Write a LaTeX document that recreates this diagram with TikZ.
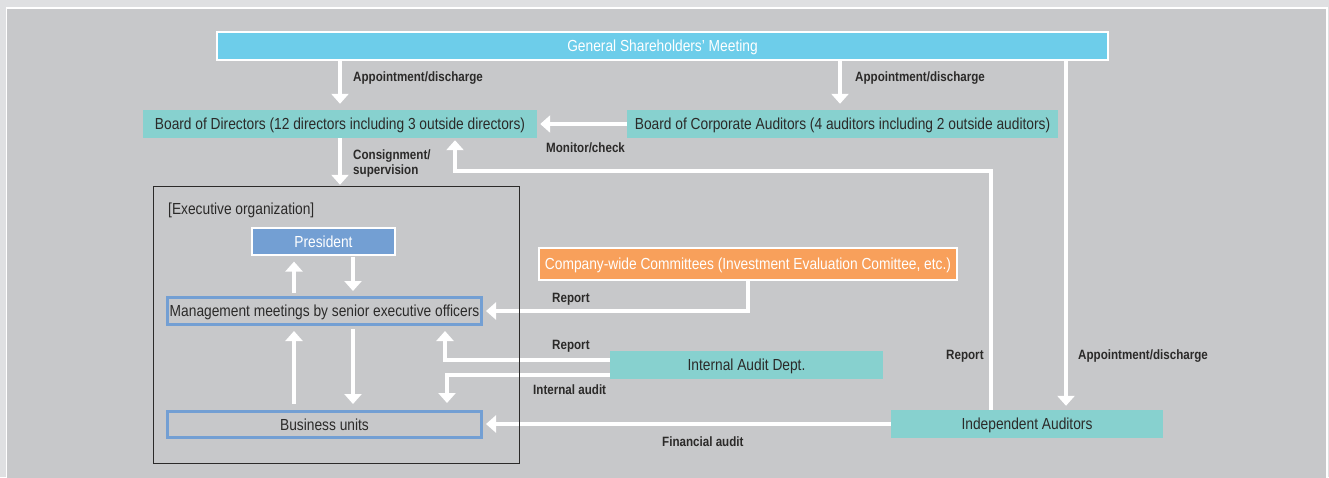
\documentclass[tikz,border=0pt]{standalone}
\usepackage{fontspec}
\setmainfont{Liberation Sans}[FakeStretch=0.86]
\usetikzlibrary{arrows.meta}
\definecolor{pagebg}{HTML}{DFE0E2}
\definecolor{panel}{HTML}{C7C8CA}
\definecolor{gsmblue}{HTML}{6DCDEA}
\definecolor{teal}{HTML}{87D1CF}
\definecolor{presblue}{HTML}{739FD3}
\definecolor{orangebox}{HTML}{F8A05B}
\definecolor{ink}{HTML}{2B2A29}
\tikzset{
  box/.style={inner sep=0pt, font=\fontsize{16}{18}\selectfont, text=ink, text height=11.5pt, text depth=0pt},
  lightbox/.style={box, draw=white, line width=1.2pt, text=white},
  tealbox/.style={box, fill=teal},
  outlinebox/.style={box, draw=presblue, line width=3pt},
  lbl/.style={anchor=west, inner sep=0pt, text=ink, font=\fontsize{13.5}{15.5}\selectfont\bfseries, align=left, text height=9.7pt, text depth=0pt},
  flow/.style={draw=white, line width=3.5pt, -{Triangle[width=17pt,length=10pt]}},
}
\begin{document}
\begin{tikzpicture}[x=1pt,y=-1pt]
\useasboundingbox (0,0) rectangle (1329,477);
\fill[pagebg] (0,0) rectangle (1329,477);
\filldraw[fill=panel, draw=white, line width=1.2pt] (6.5,8) rectangle (1327,490);

% top level bodies
\node[lightbox, fill=gsmblue, minimum width=891pt, minimum height=28pt] (gsm) at (662.5,46) {General Shareholders' Meeting};
\node[tealbox, minimum width=394pt, minimum height=28pt] (bod) at (340,124) {Board of Directors (12 directors including 3 outside directors)};
\node[tealbox, minimum width=431pt, minimum height=28pt] (bca) at (842.5,124) {Board of Corporate Auditors (4 auditors including 2 outside auditors)};

% executive organization
\node[draw=none, minimum width=365pt, minimum height=276pt, inner sep=0pt] (exec) at (336.5,325) {};
\node[anchor=west, inner sep=0pt, text=ink, font=\fontsize{16}{18}\selectfont, text height=11.5pt, text depth=0pt] (execlbl) at (168,209) {[Executive organization]};
\node[lightbox, fill=presblue, minimum width=143pt, minimum height=27pt] (pres) at (323.5,241.5) {President};
\node[outlinebox, minimum width=314pt, minimum height=27pt] (mm) at (324.5,311) {Management meetings by senior executive officers};
\node[outlinebox, minimum width=314pt, minimum height=26pt] (bu) at (324.5,424.5) {Business units};

% other bodies
\node[lightbox, fill=orangebox, minimum width=418pt, minimum height=32pt] (cwc) at (748,264) {Company-wide Committees (Investment Evaluation Comittee, etc.)};
\node[tealbox, minimum width=273pt, minimum height=28pt] (iad) at (746.5,365) {Internal Audit Dept.};
\node[tealbox, minimum width=272pt, minimum height=28pt] (ia) at (1027,424) {Independent Auditors};

% routing coordinates
\coordinate (upx) at (294,0);
\coordinate (downx) at (353,0);
\coordinate (bcax) at (840,0);
\coordinate (iax) at (1066,0);
\coordinate (rptx) at (445,0);
\coordinate (auditx) at (447,0);
\coordinate (rr) at (991,171);
\coordinate (rl) at (455,171);

% connectors
\draw[flow, shorten >=6pt] (gsm.south -| bod) -- (bod.north);
\draw[flow, shorten >=6pt] (gsm.south -| bcax) -- (bca.north -| bcax);
\draw[flow, shorten >=4pt] (gsm.south -| iax) -- (ia.north -| iax);
\draw[flow, shorten >=3pt] (bca.west) -- (bod.east);
\draw[flow, shorten >=2pt] (bod.south) -- (bod.south |- exec.north);
\draw[flow, shorten <=3pt, shorten >=6pt] (mm.north -| upx) -- (pres.south -| upx);
\draw[flow, shorten <=1pt, shorten >=5pt] (pres.south -| downx) -- (mm.north -| downx);
\draw[flow, shorten <=6pt, shorten >=5pt] (bu.north -| upx) -- (mm.south -| upx);
\draw[flow, shorten <=3pt, shorten >=6pt] (mm.south -| downx) -- (bu.north -| downx);
\draw[flow, shorten >=3pt] (cwc.south) |- (mm.east);
\draw[flow, shorten >=5pt] ([yshift=5pt]iad.west) -| (mm.south -| rptx);
\draw[flow, shorten >=7pt] ([yshift=-10pt]iad.west) -| (bu.north -| auditx);
\draw[flow, shorten >=2pt] (ia.north -| rr) -- (rr) -- (rl) -- (bod.south -| rl);
\draw[flow, shorten >=3pt] (ia.west) -- (ia.west -| bu.east);

% frame of the executive organization, over the lines that cross it
\draw[ink, line width=0.8pt] (exec.north west) rectangle (exec.south east);

% connector labels
\node[lbl] (l1) at (353,77) {Appointment/discharge};
\node[lbl] (l2) at (855,77) {Appointment/discharge};
\node[lbl] (l3) at (1078,355) {Appointment/discharge};
\node[lbl] (l4) at (546,148) {Monitor/check};
\node[lbl] (l5) at (353,170) {Consignment/\\supervision};
\node[lbl] (l6) at (552,298) {Report};
\node[lbl] (l7) at (552,345) {Report};
\node[lbl] (l8) at (946,355) {Report};
\node[lbl] (l9) at (533,390) {Internal audit};
\node[lbl] (l10) at (662,442) {Financial audit};
\end{tikzpicture}
\end{document}
